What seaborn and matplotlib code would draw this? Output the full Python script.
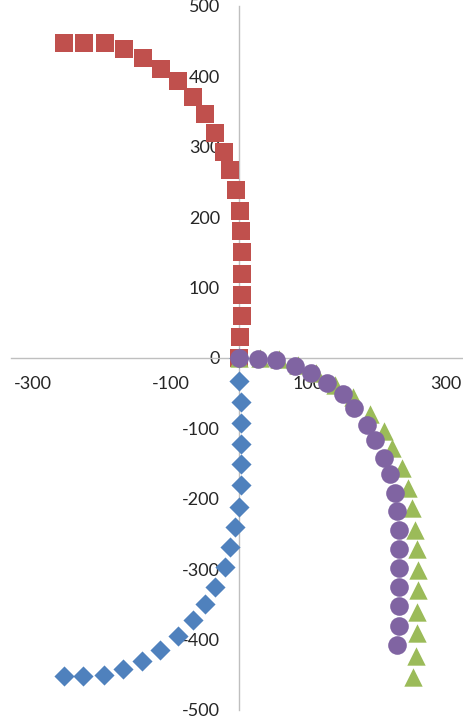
import numpy as np
import pandas as pd
import seaborn as sns
import matplotlib.pyplot as plt

# series
blue_x = [0, 0, 3, 2, 2, 2, 2, 0, -6, -14, -21, -36, -50, -68, -89, -115, -142, -169, -197, -227, -256]
blue_y = [0, -33, -63, -92, -122, -151, -181, -211, -240, -269, -297, -325, -350, -372, -395, -415, -430, -442, -450, -452, -452]

red_x = [0, 1, 4, 4, 4, 4, 3, 1, -5, -13, -23, -35, -50, -68, -89, -114, -141, -168, -196, -226, -256]
red_y = [0, 30, 60, 90, 120, 150, 180, 209, 238, 267, 293, 320, 347, 371, 393, 410, 426, 439, 448, 448, 448]

green_x = [0, 30, 58, 86, 112, 139, 166, 190, 210, 222, 236, 245, 251, 256, 259, 260, 260, 259, 258, 257, 253]
green_y = [0, 0, -2, -10, -22, -38, -55, -80, -104, -128, -156, -185, -213, -245, -272, -301, -330, -361, -390, -423, -453]

purple_x = [0, 27, 54, 81, 104, 128, 151, 167, 186, 198, 210, 219, 226, 230, 233, 233, 233, 233, 233, 232, 229]
purple_y = [0, -1, -3, -11, -22, -36, -51, -71, -95, -116, -142, -165, -192, -217, -244, -272, -299, -325, -352, -380, -407]

x_ticks = [-300, -100, 100, 300]
y_ticks = list(range(-500, 501, 100))

sns.set_style("white")
plt.rcParams['font.family'] = ['Lato', 'DejaVu Sans']

fig = plt.figure(figsize=(4.63, 7.19), dpi=100)
ax = fig.add_axes([11/463, 9/719, 452/463, 704/719])

series = [
    (blue_x, blue_y, '#4F81BD', 'D', 105),
    (red_x, red_y, '#C0504D', 's', 160),
    (green_x, green_y, '#9BBB59', '^', 175),
    (purple_x, purple_y, '#8064A2', 'o', 180),
]
for xs, ys, col, mk, sz in series:
    sns.scatterplot(x=xs, y=ys, color=col, marker=mk, s=sz, linewidth=0,
                    ax=ax, clip_on=False, zorder=3)

ax.set_xlim(-332.5, 325.5)
ax.set_ylim(-500, 500)
ax.set_xticks(x_ticks)
ax.set_yticks(y_ticks)
ax.set_xticklabels([str(v) for v in x_ticks])
ax.set_yticklabels([str(v) for v in y_ticks])

for side in ['top', 'right']:
    ax.spines[side].set_visible(False)
ax.spines['left'].set_position(('data', 0))
ax.spines['bottom'].set_position(('data', 0))
for side in ['left', 'bottom']:
    ax.spines[side].set_color('#BFBFBF')
    ax.spines[side].set_linewidth(1.0)

ax.tick_params(axis='both', direction='out', length=5, width=1.0, color='#BFBFBF',
               labelsize=13, labelcolor='#262626')
ax.tick_params(axis='y', pad=9)
ax.tick_params(axis='x', pad=8)
ax.grid(False)
ax.set_facecolor('none')

fig.savefig('out.png', dpi=100)
